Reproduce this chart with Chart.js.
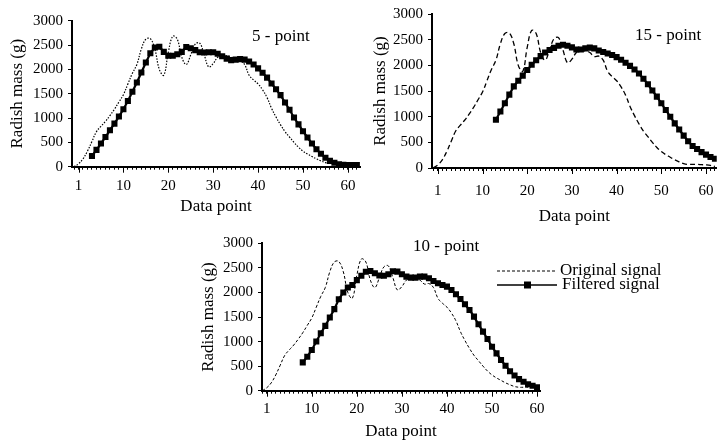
<!DOCTYPE html>
<html>
<head>
<meta charset="utf-8">
<script src="https://cdn.jsdelivr.net/npm/chart.js@4.4.0/dist/chart.umd.min.js"></script>
<style>
html, body { margin: 0; padding: 0; background: #fff; }
body { width: 726px; height: 447px; position: relative; overflow: hidden; }
canvas { position: absolute; }
</style>
</head>
<body>
<canvas id="p5" width="365" height="225" style="left:0;top:0"></canvas>
<canvas id="p15" width="366" height="235" style="left:360px;top:0"></canvas>
<canvas id="p10" width="531" height="219" style="left:195px;top:228px"></canvas>
<script>
// Data (x = data point, y = radish mass in g)
const originalStart = -1;
const originalSignal = [
    0, 60, 160, 320, 520, 720, 830, 930, 1050, 1180,
    1330, 1480, 1700, 1920, 2100, 2420, 2620, 2630, 2420, 2000,
    1880, 2350, 2680, 2620, 2250, 2100, 2300, 2520, 2540, 2300,
    2050, 2120, 2250, 2290, 2280, 2250, 2170, 2180, 2100, 1880,
    1780, 1700, 1580, 1420, 1200, 1020, 860, 720, 610, 500,
    400, 320, 260, 210, 160, 120, 85, 70, 70, 70,
    65, 60, 50, 30
];

const filtered5Start = 3;
const filtered5 = [
    220, 345, 475, 610, 750, 885, 1030, 1180, 1350, 1540,
    1730, 1935, 2140, 2330, 2450, 2465, 2360, 2280, 2280, 2310,
    2360, 2460, 2435, 2395, 2350, 2345, 2350, 2350, 2320, 2270,
    2220, 2190, 2200, 2210, 2200, 2160, 2100, 2020, 1930, 1830,
    1710, 1590, 1470, 1320, 1170, 1010, 870, 730, 600, 475,
    360, 265, 185, 120, 80, 50, 40, 35, 35, 35
];

const filtered15Start = 13;
const filtered15 = [
    940, 1100, 1260, 1430, 1590, 1700, 1800, 1910, 2010, 2100,
    2180, 2250, 2300, 2340, 2380, 2400, 2380, 2350, 2310, 2310,
    2330, 2345, 2330, 2290, 2260, 2230, 2200, 2160, 2110, 2050,
    1990, 1920, 1840, 1740, 1630, 1510, 1390, 1260, 1130, 1000,
    870, 750, 630, 520, 430, 370, 310, 260, 215, 180
];

const filtered10Start = 8;
const filtered10 = [
    577, 692, 830, 1000, 1170, 1320, 1490, 1660, 1860, 2000,
    2100, 2150, 2250, 2340, 2420, 2435, 2390, 2345, 2340, 2370,
    2430, 2424, 2369, 2322, 2301, 2301, 2322, 2322, 2288, 2233,
    2186, 2152, 2118, 2050, 1962, 1867, 1758, 1643, 1507, 1351,
    1202, 1052, 896, 760, 625, 509, 395, 310, 235, 182,
    132, 101, 68
];

const xTickValues = [0, 10, 20, 30, 40, 50, 60];
const xTickLabels = ['1', '10', '20', '30', '40', '50', '60'];
const yTickValues = [0, 500, 1000, 1500, 2000, 2500, 3000];

const serif = "'Liberation Serif', 'Times New Roman', serif";

function toPoints(start, values) {
    return values.map((v, i) => ({ x: start + i, y: v }));
}

// Panel label, longer major ticks and (optionally) the legend
function extrasPlugin(p) {
    return {
        id: 'extras',
        afterDraw(chart) {
            const ctx = chart.ctx;
            const xs = chart.scales.x;
            ctx.save();
            ctx.strokeStyle = '#000';
            ctx.lineWidth = 1;
            xTickValues.forEach(v => {
                const px = Math.round(xs.getPixelForValue(v)) + 0.5;
                ctx.beginPath();
                ctx.moveTo(px, xs.top);
                ctx.lineTo(px, xs.top + 6);
                ctx.stroke();
            });
            ctx.fillStyle = '#000';
            ctx.font = '17px ' + serif;
            ctx.textBaseline = 'middle';
            ctx.textAlign = 'left';
            ctx.fillText(p.label, p.labelX, p.labelY);

            if (p.legend) {
                const lg = p.legend;
                ctx.lineWidth = 1;
                ctx.setLineDash([3, 2]);
                ctx.beginPath();
                ctx.moveTo(lg.x, lg.y1);
                ctx.lineTo(lg.x + 60, lg.y1);
                ctx.stroke();
                ctx.setLineDash([]);
                ctx.lineWidth = 1.5;
                ctx.beginPath();
                ctx.moveTo(lg.x, lg.y2);
                ctx.lineTo(lg.x + 60, lg.y2);
                ctx.stroke();
                ctx.fillRect(lg.x + 27, lg.y2 - 3.5, 7, 7);
                ctx.fillText('Original signal', lg.x + 63, lg.y1);
                ctx.fillText('Filtered signal', lg.x + 65, lg.y2);
            }
            ctx.restore();
        }
    };
}

function panelChart(canvasId, p) {
    const ctx = document.getElementById(canvasId);
    return new Chart(ctx, {
        type: 'line',
        data: {
            datasets: [
                {
                    data: toPoints(p.filtStart, p.filt),
                    borderColor: '#000',
                    borderWidth: 2.2,
                    pointStyle: 'rect',
                    pointRadius: 4.3,
                    pointBackgroundColor: '#000',
                    pointBorderWidth: 0,
                    tension: 0
                },
                {
                    data: toPoints(originalStart, originalSignal),
                    borderColor: '#000',
                    borderWidth: p.origWidth,
                    borderDash: p.origDash,
                    pointRadius: 0,
                    tension: 0.4
                }
            ]
        },
        options: {
            responsive: false,
            animation: false,
            devicePixelRatio: 1,
            layout: { padding: { top: p.padTop, right: p.padRight, left: 0, bottom: 0 } },
            plugins: { legend: { display: false }, tooltip: { enabled: false } },
            scales: {
                x: {
                    type: 'linear',
                    min: p.xMin,
                    max: p.xMax,
                    afterBuildTicks: s => {
                        const t = [];
                        for (let v = Math.ceil(p.xMin); v <= p.xMax; v++) t.push({ value: v });
                        s.ticks = t;
                    },
                    afterFit: s => { s.height = p.xAxisHeight; },
                    ticks: {
                        autoSkip: false,
                        maxRotation: 0,
                        padding: p.xTickPad,
                        color: '#000',
                        font: { family: serif, size: 15 },
                        callback: v => {
                            const i = xTickValues.indexOf(v);
                            return i >= 0 ? xTickLabels[i] : '';
                        }
                    },
                    grid: { drawOnChartArea: false, tickLength: 3, tickColor: '#000', tickWidth: 1 },
                    border: { color: '#000', width: 2 },
                    title: {
                        display: true, text: 'Data point', color: '#000',
                        font: { family: serif, size: 17 },
                        padding: { top: 0, bottom: p.xTitlePad }
                    }
                },
                y: {
                    min: 0,
                    max: 3000,
                    afterBuildTicks: s => { s.ticks = yTickValues.map(v => ({ value: v })); },
                    afterFit: s => { s.width = p.yAxisWidth; },
                    ticks: {
                        padding: 5, color: '#000', font: { family: serif, size: 15 },
                        callback: v => String(v)
                    },
                    grid: { drawOnChartArea: false, tickLength: 4, tickColor: '#000' },
                    border: { color: '#000', width: 2 },
                    title: {
                        display: true, text: 'Radish mass (g)', color: '#000',
                        font: { family: serif, size: 17 },
                        padding: { top: p.yTitlePad, bottom: 0 }
                    }
                }
            }
        },
        plugins: [extrasPlugin(p)]
    });
}

panelChart('p5', {
    filtStart: filtered5Start, filt: filtered5,
    origDash: [1.5, 1.5], origWidth: 1.2,
    xMin: -1.45, xMax: 62.7,
    padTop: 20.7, padRight: 5,
    yAxisWidth: 72, xAxisHeight: 58.3,
    xTickPad: 7, xTitlePad: 8, yTitlePad: 7,
    label: '5 - point', labelX: 252, labelY: 37
});

panelChart('p15', {
    filtStart: filtered15Start, filt: filtered15,
    origDash: [5, 3], origWidth: 1.3,
    xMin: -1.3, xMax: 62.4,
    padTop: 10, padRight: 6,
    yAxisWidth: 72, xAxisHeight: 67,
    xTickPad: 11, xTitlePad: 8, yTitlePad: 10,
    label: '15 - point', labelX: 275, labelY: 36
});

panelChart('p10', {
    filtStart: filtered10Start, filt: filtered10,
    origDash: [3, 2], origWidth: 1,
    xMin: -1.05, xMax: 60.65,
    padTop: 15.3, padRight: 186,
    yAxisWidth: 67, xAxisHeight: 56.3,
    xTickPad: 6, xTitlePad: 5, yTitlePad: 3,
    label: '10 - point', labelX: 218, labelY: 19,
    legend: { x: 302, y1: 43, y2: 57 }
});
</script>
</body>
</html>
